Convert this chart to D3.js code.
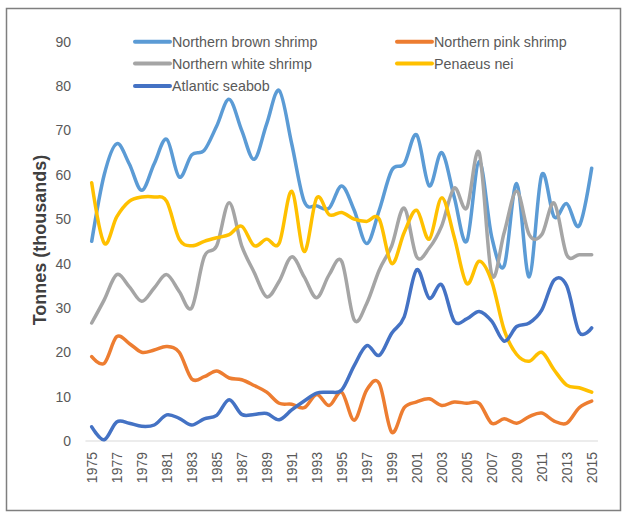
<!DOCTYPE html>
<html>
<head>
<meta charset="utf-8">
<script src="https://cdn.jsdelivr.net/npm/d3@7"></script>
<style>
  body { margin: 0; background: #fff; }
  svg { display: block; font-family: "Liberation Sans", Arial, sans-serif; }
  .tick text { fill: #595959; font-size: 14px; }
</style>
</head>
<body>
<svg id="chart" width="626" height="516"></svg>
<script>
// years on the category axis
const years = d3.range(1975, 2016);
const yTicks = d3.range(0, 100, 10);

const seriesNames = ["Northern brown shrimp", "Northern pink shrimp", "Northern white shrimp", "Penaeus nei", "Atlantic seabob"];
const seriesColors = ["#5B9BD5", "#ED7D31", "#A5A5A5", "#FFC000", "#4472C4"];

// thousands of tonnes
const brownShrimp = [45, 60, 67, 62.5, 56.5, 62.5, 68, 59.5, 64.5, 65.5,
  71, 77, 70, 63.5, 71.5, 79, 67, 54, 53, 52.5,
  57.5, 52, 44.5, 52, 61, 62.5, 69, 57.5, 65, 55,
  45, 63, 46, 39.5, 58, 37, 60, 50.5, 53.5, 48.5, 61.5];
const pinkShrimp = [19, 17.5, 23.5, 22, 20, 20.5, 21.3, 20, 14, 14.5,
  15.8, 14.2, 13.8, 12.5, 11, 8.5, 8.3, 7.5, 10.5, 8,
  11, 4.7, 11.5, 13, 2, 7.5, 8.8, 9.5, 8, 8.8,
  8.5, 8.5, 4, 5, 4, 5.5, 6.3, 4.5, 4, 7.5, 9];
const whiteShrimp = [26.6, 31.8, 37.5, 34.8, 31.5, 34.5, 37.5, 33.7, 30, 41.5,
  44, 53.7, 44, 38, 32.5, 36, 41.5, 37, 32.3, 37.5,
  40.5, 27.3, 31, 38.5, 44, 52.5, 41.5, 43.5, 48.5, 57,
  52.5, 65, 37.5, 47, 56.3, 46.5, 46.5, 53.6, 42, 42, 42];
const penaeusNei = [58.2, 44.6, 50.5, 54, 55, 55, 54, 45.5, 44, 45,
  45.8, 46.5, 48.4, 44, 45.5, 44.6, 56.3, 42.7, 54.8, 51,
  51.5, 50, 49.5, 50, 40, 47, 52, 45.5, 54.8, 46,
  35.5, 40.5, 36, 25, 19.5, 18, 20, 16, 12.6, 12, 11];
const atlanticSeabob = [3.2, 0.3, 4.3, 4, 3.3, 3.6, 5.9, 5.1, 3.6, 5,
  5.8, 9.3, 6, 6, 6.2, 4.8, 7, 9, 10.8, 11,
  11.5, 17, 21.5, 19.3, 24.3, 28, 38.6, 32.2, 35.2, 27,
  27.5, 29.2, 27, 22.5, 25.8, 26.6, 29.5, 36.3, 35, 24.5, 25.5];

const seriesValues = [brownShrimp, pinkShrimp, whiteShrimp, penaeusNei, atlanticSeabob];

const svg = d3.select("#chart");

// outer frame
svg.append("rect")
  .attr("x", 6.5).attr("y", 8.5)
  .attr("width", 614).attr("height", 502)
  .attr("fill", "none")
  .attr("stroke", "#7f7f7f")
  .attr("stroke-width", 1.5);

const x = d3.scaleLinear().domain([1975, 2015]).range([91.7, 591.7]);
const y = d3.scaleLinear().domain([0, 90]).range([441, 41.7]);
const half = (x(1976) - x(1975)) / 2;

// category axis line
svg.append("line")
  .attr("x1", x(1975) - half).attr("x2", x(2015) + half)
  .attr("y1", y(0)).attr("y2", y(0))
  .attr("stroke", "#d9d9d9")
  .attr("stroke-width", 1);

// y axis labels only
svg.append("g")
  .attr("transform", "translate(75,0)")
  .call(d3.axisLeft(y).tickValues(yTicks).tickSize(0).tickPadding(4))
  .call(g => g.select(".domain").remove());

// x axis, labels turned up
svg.append("g")
  .attr("transform", `translate(0,${y(0)})`)
  .call(d3.axisBottom(x).tickValues(d3.range(1975, 2016, 2)).tickFormat(d3.format("d")).tickSize(0))
  .call(g => g.select(".domain").remove())
  .selectAll("text")
  .attr("transform", "rotate(-90)")
  .attr("x", -11)
  .attr("y", 0)
  .attr("dy", "0.35em")
  .attr("text-anchor", "end");

// axis title
svg.append("text")
  .attr("transform", "translate(40,240) rotate(-90)")
  .attr("text-anchor", "middle")
  .attr("dy", "0.35em")
  .attr("font-size", 18)
  .attr("font-weight", "bold")
  .attr("fill", "#404040")
  .text("Tonnes (thousands)");

const line = d3.line()
  .x((d, i) => x(years[i]))
  .y(d => y(d))
  .curve(d3.curveCatmullRom.alpha(0));

svg.append("g")
  .selectAll("path")
  .data(seriesValues)
  .join("path")
  .attr("d", line)
  .attr("fill", "none")
  .attr("stroke", (d, i) => seriesColors[i])
  .attr("stroke-width", 3.5)
  .attr("stroke-linejoin", "round")
  .attr("stroke-linecap", "round");

// legend, two columns
const legendPos = [[135, 41.7], [397, 41.7], [135, 63.5], [397, 63.5], [135, 86]];
const legend = svg.append("g")
  .selectAll("g")
  .data(seriesNames)
  .join("g")
  .attr("transform", (d, i) => `translate(${legendPos[i][0]},${legendPos[i][1]})`);
legend.append("line")
  .attr("x1", 0).attr("x2", 35)
  .attr("stroke", (d, i) => seriesColors[i])
  .attr("stroke-width", 4)
  .attr("stroke-linecap", "round");
legend.append("text")
  .attr("x", 37)
  .attr("dy", "0.35em")
  .attr("font-size", 14.3)
  .attr("fill", "#595959")
  .text(d => d);
</script>
</body>
</html>
